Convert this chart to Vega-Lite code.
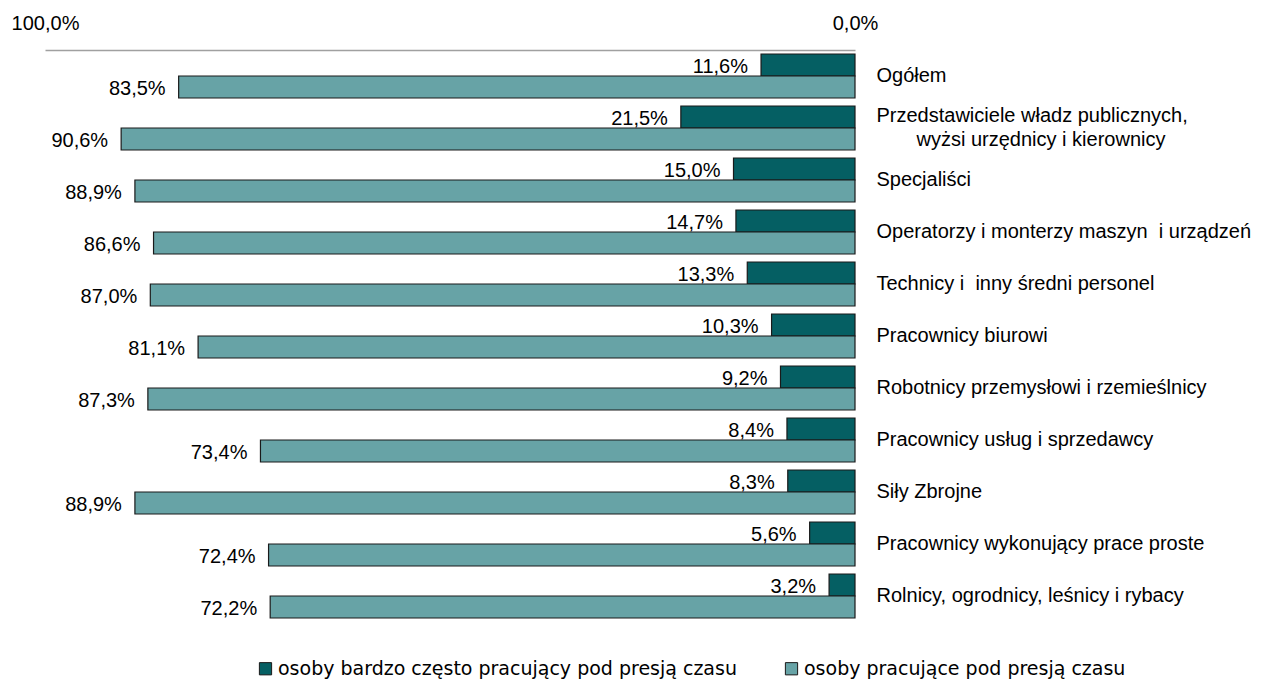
{
  "$schema": "https://vega.github.io/schema/vega-lite/v6.json",
  "width": 810,
  "height": 572,
  "autosize": {"type": "none"},
  "padding": {"left": 45, "top": 50, "right": 430, "bottom": 60},
  "background": "white",
  "config": {
    "view": {"stroke": null},
    "font": "Liberation Sans"
  },
  "data": {
    "values": [
      {"kat": "Ogółem", "seria": "osoby bardzo często pracujący pod presją czasu", "wartosc": 11.6},
      {"kat": "Ogółem", "seria": "osoby pracujące pod presją czasu", "wartosc": 83.5},
      {"kat": "Przedstawiciele władz publicznych,|\u200b\u2003\u2003wyżsi urzędnicy i kierownicy", "seria": "osoby bardzo często pracujący pod presją czasu", "wartosc": 21.5},
      {"kat": "Przedstawiciele władz publicznych,|\u200b\u2003\u2003wyżsi urzędnicy i kierownicy", "seria": "osoby pracujące pod presją czasu", "wartosc": 90.6},
      {"kat": "Specjaliści", "seria": "osoby bardzo często pracujący pod presją czasu", "wartosc": 15.0},
      {"kat": "Specjaliści", "seria": "osoby pracujące pod presją czasu", "wartosc": 88.9},
      {"kat": "Operatorzy i monterzy maszyn\u00a0 i urządzeń", "seria": "osoby bardzo często pracujący pod presją czasu", "wartosc": 14.7},
      {"kat": "Operatorzy i monterzy maszyn\u00a0 i urządzeń", "seria": "osoby pracujące pod presją czasu", "wartosc": 86.6},
      {"kat": "Technicy i\u00a0 inny średni personel", "seria": "osoby bardzo często pracujący pod presją czasu", "wartosc": 13.3},
      {"kat": "Technicy i\u00a0 inny średni personel", "seria": "osoby pracujące pod presją czasu", "wartosc": 87.0},
      {"kat": "Pracownicy biurowi", "seria": "osoby bardzo często pracujący pod presją czasu", "wartosc": 10.3},
      {"kat": "Pracownicy biurowi", "seria": "osoby pracujące pod presją czasu", "wartosc": 81.1},
      {"kat": "Robotnicy przemysłowi i rzemieślnicy", "seria": "osoby bardzo często pracujący pod presją czasu", "wartosc": 9.2},
      {"kat": "Robotnicy przemysłowi i rzemieślnicy", "seria": "osoby pracujące pod presją czasu", "wartosc": 87.3},
      {"kat": "Pracownicy usług i sprzedawcy", "seria": "osoby bardzo często pracujący pod presją czasu", "wartosc": 8.4},
      {"kat": "Pracownicy usług i sprzedawcy", "seria": "osoby pracujące pod presją czasu", "wartosc": 73.4},
      {"kat": "Siły Zbrojne", "seria": "osoby bardzo często pracujący pod presją czasu", "wartosc": 8.3},
      {"kat": "Siły Zbrojne", "seria": "osoby pracujące pod presją czasu", "wartosc": 88.9},
      {"kat": "Pracownicy wykonujący prace proste", "seria": "osoby bardzo często pracujący pod presją czasu", "wartosc": 5.6},
      {"kat": "Pracownicy wykonujący prace proste", "seria": "osoby pracujące pod presją czasu", "wartosc": 72.4},
      {"kat": "Rolnicy, ogrodnicy, leśnicy i rybacy", "seria": "osoby bardzo często pracujący pod presją czasu", "wartosc": 3.2},
      {"kat": "Rolnicy, ogrodnicy, leśnicy i rybacy", "seria": "osoby pracujące pod presją czasu", "wartosc": 72.2}
    ]
  },
  "transform": [
    {"calculate": "replace(format(datum.wartosc, '.1f'), '.', ',') + '%'", "as": "etykieta"}
  ],
  "encoding": {
    "y": {
      "field": "kat",
      "type": "nominal",
      "sort": null,
      "scale": {"paddingInner": 0.1538, "paddingOuter": 0.077},
      "axis": {
        "orient": "right",
        "title": null,
        "domain": false,
        "ticks": false,
        "labelPadding": 21,
        "labelAlign": "left",
        "labelFontSize": 20,
        "labelColor": "#000000",
        "labelLimit": 0,
        "labelLineHeight": 24,
        "labelOffset": {"condition": {"test": "indexof(datum.label, '|') >= 0", "value": -12}, "value": 0},
        "labelExpr": "split(datum.label, '|')"
      }
    },
    "yOffset": {
      "field": "seria",
      "type": "nominal",
      "sort": ["osoby bardzo często pracujący pod presją czasu", "osoby pracujące pod presją czasu"],
      "scale": {"paddingInner": 0, "paddingOuter": 0}
    },
    "x": {
      "field": "wartosc",
      "type": "quantitative",
      "scale": {"domain": [0, 100], "reverse": true, "nice": false},
      "axis": {
        "orient": "top",
        "title": null,
        "values": [0, 100],
        "grid": false,
        "ticks": false,
        "labelFlush": false,
        "domainColor": "#a0a0a0",
        "domainWidth": 1.5,
        "labelPadding": 17,
        "labelFontSize": 20,
        "labelColor": "#000000",
        "labelExpr": "replace(format(datum.value, '.1f'), '.', ',') + '%'"
      }
    }
  },
  "layer": [
    {
      "mark": {"type": "bar", "stroke": "#1a1a1a", "strokeWidth": 1.2},
      "encoding": {
        "color": {
          "field": "seria",
          "type": "nominal",
          "scale": {
            "domain": ["osoby bardzo często pracujący pod presją czasu", "osoby pracujące pod presją czasu"],
            "range": ["#055f63", "#67a3a6"]
          },
          "legend": {
            "orient": "none",
            "legendX": 211,
            "legendY": 609,
            "direction": "horizontal",
            "title": null,
            "symbolType": "square",
            "symbolSize": 150,
            "symbolStrokeColor": "#1a1a1a",
            "symbolStrokeWidth": 1,
            "labelFont": "DejaVu Sans",
            "labelFontSize": 19,
            "labelColor": "#000000",
            "labelLimit": 0,
            "labelOffset": 3,
            "columnPadding": 45
          }
        }
      }
    },
    {
      "mark": {"type": "text", "align": "right", "baseline": "middle", "dx": -13, "dy": 2, "fontSize": 20, "color": "#000000"},
      "encoding": {
        "text": {"field": "etykieta", "type": "nominal"}
      }
    }
  ]
}
